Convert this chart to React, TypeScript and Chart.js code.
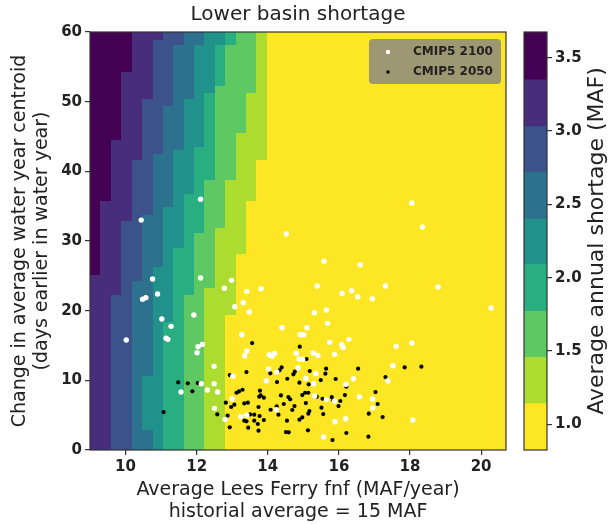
import React, { useEffect, useRef } from "react";
import { Chart, registerables } from "chart.js";

Chart.register(...registerables);

const FONT = "'DejaVu Sans', 'Noto Sans', sans-serif";
const TEXT = "#222222";

const xTicks = [10, 12, 14, 16, 18, 20];
const yTicks = [0, 10, 20, 30, 40, 50, 60];
const cbTicks = [1.0, 1.5, 2.0, 2.5, 3.0, 3.5];
const cbLevels = [0.824, 1.14, 1.455, 1.77, 2.09, 2.4, 2.72, 3.03, 3.35, 3.676];
const cbLabel = "Average annual shortage (MAF)";
const bandColors = ["#fde725", "#addc30", "#5ec962", "#28ae80", "#21918c", "#2c728e", "#3b528b", "#472d7b", "#440154"];

// Staircase boundaries of the shortage field: [yFrom, yTo, x]; area left of x gets the next band colour
const edge1 = [[0, 19.4, 12.8], [19.4, 28.2, 13.1], [28.2, 35.8, 13.39], [35.8, 41.6, 13.68], [41.6, 60, 13.97]];
const edge2 = [[0, 23.3, 12.22], [23.3, 31.9, 12.51], [31.9, 38.8, 12.8], [38.8, 45.5, 13.1], [45.5, 51.3, 13.39], [51.3, 60, 13.68]];
const edge3 = [[0, 22.2, 11.63], [22.2, 31.1, 11.93], [31.1, 38.8, 12.22], [38.8, 52.2, 12.51], [52.2, 58.1, 12.8], [58.1, 60, 13.1]];
const edge4 = [[0, 18.4, 11.05], [18.4, 29.0, 11.34], [29.0, 36.7, 11.63], [36.7, 43.5, 11.93], [43.5, 51.3, 12.22], [51.3, 58.1, 12.51], [58.1, 60, 12.8]];
const edge5 = [[0, 2.9, 10.76], [2.9, 10.6, 10.46], [10.6, 26.2, 10.76], [26.2, 34.9, 11.05], [34.9, 43, 11.34], [43, 50.4, 11.63], [50.4, 58.1, 11.93], [58.1, 60, 12.22]];
const edge6 = [[0, 24.3, 10.17], [24.3, 33.8, 10.46], [33.8, 42.5, 10.76], [42.5, 49.4, 11.05], [49.4, 58.1, 11.34], [58.1, 60, 11.63]];
const edge7 = [[0, 22.2, 9.59], [22.2, 32.9, 9.88], [32.9, 41.6, 10.17], [41.6, 50.4, 10.46], [50.4, 58.9, 10.76], [58.9, 60, 11.05]];
const edge8 = [[25.1, 35.8, 9.29], [35.8, 44.5, 9.59], [44.5, 54.3, 9.88], [54.3, 60, 10.17]];
const edges = [edge1, edge2, edge3, edge4, edge5, edge6, edge7, edge8];

const cmip2100 = [
  [12.11, 36.0], [10.44, 33.0], [18.05, 35.45], [18.35, 32.0], [14.52, 31.0], [15.58, 27.1], [16.6, 26.6],
  [10.76, 24.55], [12.11, 24.69], [12.98, 24.35], [12.78, 23.21], [13.41, 22.77], [13.81, 23.15], [13.31, 21.14], [13.07, 20.57], [13.48, 19.8],
  [10.48, 21.63], [10.57, 21.87], [10.9, 22.39],
  [15.39, 23.53], [16.09, 22.48], [16.36, 22.87], [16.53, 22.0], [16.94, 21.72], [17.31, 23.53], [18.79, 23.39], [20.28, 20.38],
  [11.92, 19.37], [11.02, 18.8], [11.28, 17.75], [11.14, 16.03], [11.19, 15.88], [10.02, 15.79], [12.16, 15.16], [12.04, 14.83], [12.01, 13.97],
  [15.31, 19.71], [15.65, 20.09], [15.68, 18.18], [14.4, 17.55], [15.1, 17.55], [13.27, 16.55], [14.91, 16.55], [15.01, 16.55],
  [15.74, 15.45], [16.08, 15.16], [16.12, 14.73], [16.28, 15.88], [17.61, 14.88], [18.05, 15.35],
  [13.41, 14.2], [13.35, 13.53], [14.04, 13.68], [14.12, 13.44], [14.19, 13.87], [14.8, 13.87], [15.28, 13.92], [15.41, 13.58], [15.88, 13.73], [14.88, 13.06], [14.98, 13.01],
  [12.49, 12.01], [14.85, 11.81], [14.02, 11.62], [14.25, 11.19], [17.52, 12.1],
  [13.02, 10.6], [12.13, 9.52], [12.49, 9.52], [16.41, 10.23], [17.38, 9.9], [13.96, 9.95], [15.07, 10.28], [15.35, 10.95], [15.29, 9.52], [16.2, 9.42],
  [11.56, 8.32], [12.3, 8.61], [12.59, 8.32], [13.0, 7.32], [16.58, 7.65], [16.95, 7.32], [15.32, 7.75], [15.65, 7.27], [15.88, 7.03],
  [12.5, 5.98], [16.95, 6.02], [14.24, 5.78], [12.8, 4.4], [13.24, 4.78], [13.41, 5.0], [16.19, 4.49], [15.89, 4.06], [18.08, 4.3], [15.57, 1.86],
];

const cmip2050 = [
  [11.48, 9.71], [11.75, 9.57], [12.03, 9.61], [11.88, 8.42], [11.07, 5.45], [12.82, 6.79], [12.58, 5.12], [12.87, 4.93],
  [13.56, 15.35], [14.9, 14.83], [15.09, 13.06], [14.39, 11.86], [14.33, 11.43], [14.76, 11.24], [13.4, 11.19], [14.07, 11.0], [14.72, 10.86], [15.18, 11.33], [15.64, 11.67], [15.62, 10.95], [16.54, 11.67], [12.93, 10.76],
  [14.26, 9.75], [14.55, 10.23], [14.89, 9.66], [15.15, 9.42], [15.49, 10.04], [15.91, 10.19], [17.31, 10.47], [17.85, 11.86], [18.32, 11.96], [16.21, 9.08],
  [13.29, 8.65], [13.19, 8.41], [13.12, 8.22], [13.78, 8.51], [13.76, 7.65], [13.8, 7.84], [13.89, 7.51], [14.37, 7.84], [14.58, 7.6], [14.63, 7.27], [14.97, 7.89], [15.05, 8.22], [15.14, 8.22], [15.38, 7.65], [15.07, 6.74], [15.8, 7.6], [15.84, 7.17], [16.17, 7.89], [16.04, 7.03], [17.03, 8.32], [17.09, 6.6], [15.54, 7.36],
  [13.34, 6.69], [13.44, 6.79], [13.06, 6.5], [12.97, 6.17], [13.74, 6.17], [14.25, 6.26], [14.45, 6.6], [14.69, 5.74], [14.75, 6.31], [14.08, 5.78], [15.17, 5.59], [15.14, 5.21], [15.51, 6.07], [15.99, 6.31], [15.56, 5.16],
  [13.5, 5.11], [13.62, 5.07], [13.77, 4.88], [14.3, 5.07], [14.97, 4.68], [14.89, 4.35], [16.84, 5.21], [17.23, 4.73],
  [12.93, 3.25], [13.34, 4.21], [13.4, 4.11], [13.62, 4.21], [13.72, 3.73], [13.89, 4.3], [14.54, 4.21], [13.45, 3.2], [13.74, 2.77], [14.51, 2.58], [14.59, 2.53], [15.13, 2.82], [16.21, 2.44], [15.82, 1.43], [16.83, 1.91],
];

const fieldPlugin = {
  id: "field",
  beforeDatasetsDraw(chart: any) {
    const { ctx, chartArea: a, scales } = chart;
    const xs = scales.x;
    const ys = scales.y;
    ctx.save();
    ctx.beginPath();
    ctx.rect(a.left, a.top, a.right - a.left, a.bottom - a.top);
    ctx.clip();
    ctx.fillStyle = bandColors[0];
    ctx.fillRect(a.left, a.top, a.right - a.left, a.bottom - a.top);
    edges.forEach((segs, i) => {
      ctx.fillStyle = bandColors[i + 1];
      segs.forEach(([y0, y1, xb]) => {
        const px = Math.round(xs.getPixelForValue(xb));
        const pt = Math.round(ys.getPixelForValue(y1));
        const pb = Math.round(ys.getPixelForValue(y0));
        ctx.fillRect(a.left - 1, pt, px - a.left + 1, pb - pt);
      });
    });
    ctx.restore();
  },
};

const framePlugin = {
  id: "frame",
  afterDraw(chart: any) {
    const { ctx, chartArea: a } = chart;
    ctx.save();
    ctx.strokeStyle = "#333333";
    ctx.lineWidth = 1.2;
    ctx.strokeRect(a.left, a.top, a.right - a.left, a.bottom - a.top);
    ctx.restore();
  },
};

const legendPlugin = {
  id: "customLegend",
  afterDraw(chart: any) {
    const { ctx, chartArea: a } = chart;
    const w = 132;
    const h = 45;
    const x0 = a.right - 137;
    const y0 = a.top + 7;
    ctx.save();
    ctx.fillStyle = "#9d9772";
    ctx.beginPath();
    if (ctx.roundRect) ctx.roundRect(x0, y0, w, h, 4);
    else ctx.rect(x0, y0, w, h);
    ctx.fill();
    ctx.font = `bold 12px ${FONT}`;
    ctx.textBaseline = "middle";
    ctx.textAlign = "left";
    chart.data.datasets.forEach((ds: any, i: number) => {
      const cy = y0 + 13 + i * 20;
      ctx.fillStyle = ds.backgroundColor;
      ctx.beginPath();
      ctx.arc(x0 + 19, cy, i === 0 ? 2.2 : 1.7, 0, Math.PI * 2);
      ctx.fill();
      ctx.fillStyle = TEXT;
      ctx.fillText(ds.label, x0 + 44, cy);
    });
    ctx.restore();
  },
};

const cbFramePlugin = {
  id: "cbFrame",
  afterDraw(chart: any) {
    const { ctx, chartArea: a } = chart;
    ctx.save();
    ctx.strokeStyle = "#333333";
    ctx.lineWidth = 1.2;
    ctx.strokeRect(a.left, a.top, a.right - a.left, a.bottom - a.top);
    // colorbar label, reading bottom to top
    ctx.translate(chart.width - 13, (a.top + a.bottom) / 2);
    ctx.rotate(-Math.PI / 2);
    ctx.font = `22px ${FONT}`;
    ctx.fillStyle = TEXT;
    ctx.textAlign = "center";
    ctx.textBaseline = "middle";
    ctx.fillText(cbLabel, 0, 0);
    ctx.restore();
  },
};

export default function App() {
  const mainRef = useRef<HTMLCanvasElement>(null);
  const cbRef = useRef<HTMLCanvasElement>(null);

  useEffect(() => {
    const tickFont = { family: FONT, size: 15, weight: "bold" as const };
    const titleFont = { family: FONT, size: 19, lineHeight: 22 / 19 };

    const main = new Chart(mainRef.current as HTMLCanvasElement, {
      type: "scatter",
      data: {
        datasets: [
          {
            label: "CMIP5 2100",
            data: cmip2100.map(([x, y]) => ({ x, y })),
            backgroundColor: "#ffffff",
            pointRadius: 2.7,
            borderWidth: 0,
          },
          {
            label: "CMIP5 2050",
            data: cmip2050.map(([x, y]) => ({ x, y })),
            backgroundColor: "#000000",
            pointRadius: 2.1,
            borderWidth: 0,
          },
        ],
      },
      options: {
        responsive: false,
        animation: false,
        devicePixelRatio: 1,
        events: [],
        layout: { padding: { left: 0, right: 104, top: 0, bottom: 0 } },
        plugins: {
          legend: { display: false },
          tooltip: { enabled: false },
          title: {
            display: true,
            text: "Lower basin shortage",
            fullSize: false,
            color: TEXT,
            font: { family: FONT, size: 20, weight: "normal", lineHeight: 1.2 },
            padding: { top: 3, bottom: 5 },
          },
        },
        scales: {
          x: {
            type: "linear",
            min: 9,
            max: 20.7,
            afterBuildTicks: (axis: any) => {
              axis.ticks = xTicks.map((v) => ({ value: v }));
            },
            afterFit: (axis: any) => {
              axis.height = 74;
            },
            ticks: { color: TEXT, font: tickFont, padding: 3, maxRotation: 0 },
            grid: { display: true, drawOnChartArea: false, drawTicks: true, tickLength: 5, color: "#333333", lineWidth: 1.2 },
            border: { display: false },
            title: {
              display: true,
              text: ["Average Lees Ferry fnf (MAF/year)", "historial average = 15 MAF"],
              color: TEXT,
              font: titleFont,
              padding: { top: 0, bottom: 1 },
            },
          },
          y: {
            type: "linear",
            min: 0,
            max: 60,
            afterBuildTicks: (axis: any) => {
              axis.ticks = yTicks.map((v) => ({ value: v }));
            },
            afterFit: (axis: any) => {
              axis.width = 90;
            },
            ticks: { color: TEXT, font: tickFont, padding: 3 },
            grid: { display: true, drawOnChartArea: false, drawTicks: true, tickLength: 5, color: "#333333", lineWidth: 1.2 },
            border: { display: false },
            title: {
              display: true,
              text: ["Change in average water year centroid", "(days earlier in water year)"],
              color: TEXT,
              font: titleFont,
              padding: { top: 9, bottom: 0 },
            },
          },
        },
      },
      plugins: [fieldPlugin, framePlugin, legendPlugin],
    } as any);

    const cb = new Chart(cbRef.current as HTMLCanvasElement, {
      type: "bar",
      data: {
        labels: [""],
        datasets: bandColors.map((c, i) => ({
          label: `band${i}`,
          data: [[cbLevels[i], cbLevels[i + 1]]],
          backgroundColor: c,
          borderWidth: 0,
          barPercentage: 1,
          categoryPercentage: 1,
          grouped: false,
        })),
      },
      options: {
        responsive: false,
        animation: false,
        devicePixelRatio: 1,
        events: [],
        layout: { padding: { left: 524, right: 0, top: 32, bottom: 74 } },
        plugins: { legend: { display: false }, tooltip: { enabled: false }, title: { display: false } },
        scales: {
          x: { display: false },
          y: {
            type: "linear",
            position: "right",
            min: cbLevels[0],
            max: cbLevels[cbLevels.length - 1],
            afterBuildTicks: (axis: any) => {
              axis.ticks = cbTicks.map((v) => ({ value: v }));
            },
            afterFit: (axis: any) => {
              axis.width = 63;
            },
            ticks: {
              color: TEXT,
              font: tickFont,
              padding: 3,
              callback: (v: any) => Number(v).toFixed(1),
            },
            grid: { display: true, drawOnChartArea: false, drawTicks: true, tickLength: 5, color: "#333333", lineWidth: 1.2 },
            border: { display: false },
            title: { display: false },
          },
        },
      },
      plugins: [cbFramePlugin],
    } as any);

    return () => {
      main.destroy();
      cb.destroy();
    };
  }, []);

  const canvasStyle: React.CSSProperties = { position: "absolute", left: 0, top: 0, display: "block" };

  return (
    <div style={{ position: "absolute", left: 0, top: 0, width: 610, height: 524, background: "#ffffff" }}>
      <canvas ref={mainRef} width={610} height={524} style={canvasStyle} />
      <canvas ref={cbRef} width={610} height={524} style={{ ...canvasStyle, pointerEvents: "none" }} />
    </div>
  );
}
